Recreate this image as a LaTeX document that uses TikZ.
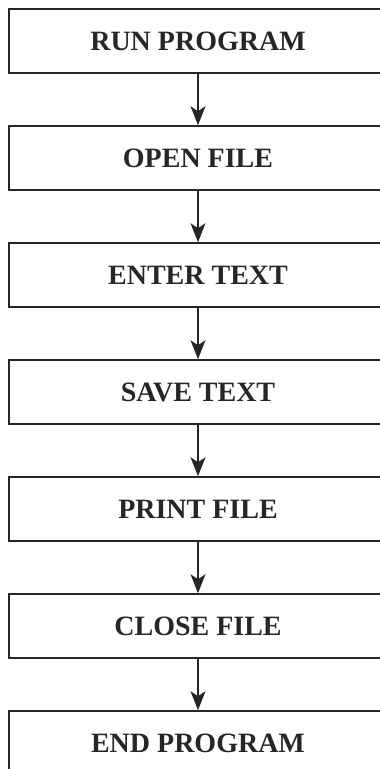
\documentclass[tikz,border=0pt]{standalone}
\usepackage{fontspec}
\setmainfont{Liberation Serif}
\usetikzlibrary{arrows.meta}
\begin{document}
\begin{tikzpicture}[x=1pt,y=-1pt,
  stepbox/.style={draw=black!85,line width=1.6pt,minimum width=378pt,minimum height=64pt,
    inner sep=0pt,font=\fontsize{28}{30}\selectfont\bfseries,text=black!85},
  flow/.style={draw=black!85,line width=1.2pt,-{Stealth[length=19pt,width=15pt,inset=5pt]}}]
  \useasboundingbox (0,0) rectangle (380,769);
  \clip (0,0) rectangle (380,769);
  % the seven steps, one under the other
  \node[stepbox] (run)   at (198,41)  {RUN PROGRAM};
  \node[stepbox] (open)  at (198,158) {OPEN FILE};
  \node[stepbox] (enter) at (198,275) {ENTER TEXT};
  \node[stepbox] (save)  at (198,392) {SAVE TEXT};
  \node[stepbox] (print) at (198,509) {PRINT FILE};
  \node[stepbox] (close) at (198,626) {CLOSE FILE};
  \node[stepbox] (endp)  at (198,743) {END PROGRAM};
  % connectors
  \draw[flow] (run)   -- (open);
  \draw[flow] (open)  -- (enter);
  \draw[flow] (enter) -- (save);
  \draw[flow] (save)  -- (print);
  \draw[flow] (print) -- (close);
  \draw[flow] (close) -- (endp);
\end{tikzpicture}
\end{document}
